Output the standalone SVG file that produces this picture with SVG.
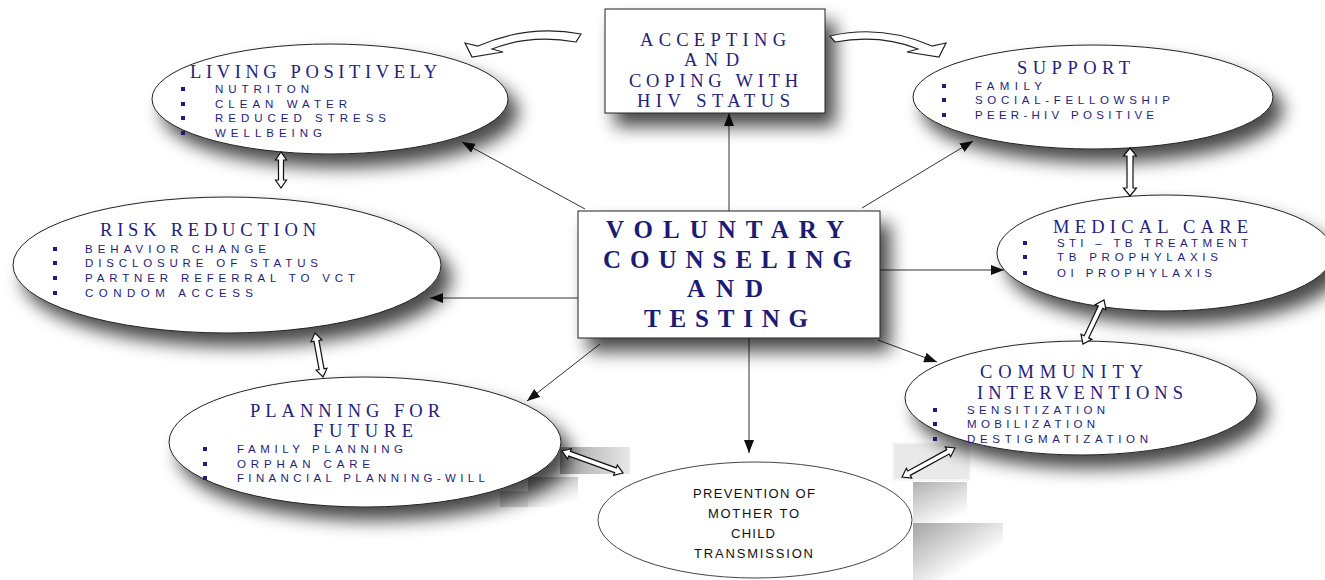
<svg xmlns="http://www.w3.org/2000/svg" width="1325" height="580" viewBox="0 0 1325 580">
  <defs>
    <style>
      .h { font-family: "Liberation Serif", "Times New Roman", serif; font-size: 18.5px; fill: #22227c; }
      .v { font-family: "Liberation Serif", "Times New Roman", serif; font-size: 25px; font-weight: bold; fill: #1c1c74; }
      .b { font-family: "Liberation Sans", Arial, sans-serif; font-size: 11.5px; fill: #1e1e7a; }
      .p { font-family: "Liberation Sans", Arial, sans-serif; font-size: 13px; fill: #111; }
      .dot { fill: #1e1e7a; }
      .shape { fill: #fff; stroke: #222; stroke-width: 1; }
      .plain { fill: #fff; stroke: #444; stroke-width: 1; }
      .link { stroke: #333; stroke-width: 1; fill: none; marker-end: url(#head); }
      .dbl { fill: #fff; stroke: #111; stroke-width: 1.2; stroke-linejoin: miter; }
      .curl { fill: #fff; stroke: #222; stroke-width: 1.2; }
    </style>
    <marker id="head" markerUnits="userSpaceOnUse" markerWidth="13" markerHeight="10" viewBox="0 0 13 10" refX="13" refY="5" orient="auto">
      <path d="M0,0 L13,5 L0,10 z" fill="#111"/>
    </marker>
    <filter id="shadow" x="-20%" y="-30%" width="150%" height="190%">
      <feGaussianBlur in="SourceAlpha" stdDeviation="9"/>
      <feOffset dx="10" dy="13" result="blur"/>
      <feComponentTransfer>
        <feFuncA type="linear" slope="0.72"/>
      </feComponentTransfer>
      <feMerge>
        <feMergeNode/>
        <feMergeNode in="SourceGraphic"/>
      </feMerge>
    </filter>
    <linearGradient id="shadeL" x1="0" y1="0" x2="1" y2="0">
      <stop offset="0" stop-color="#a4a4a4"/>
      <stop offset="1" stop-color="#e8e8e8"/>
    </linearGradient>
    <linearGradient id="shadeT" x1="0" y1="0" x2="0.6" y2="1">
      <stop offset="0" stop-color="#b0b0b0"/>
      <stop offset="1" stop-color="#ffffff"/>
    </linearGradient>
    <linearGradient id="shadeD" x1="0" y1="0" x2="1" y2="1">
      <stop offset="0" stop-color="#a4a4a4"/>
      <stop offset="0.7" stop-color="#ffffff"/>
    </linearGradient>
  </defs>

  <rect width="1325" height="580" fill="#fff"/>

  <!-- tiled shadow patches around the lower connectors -->
  <g id="patches">
    <rect x="560" y="447" width="70" height="27" fill="url(#shadeL)"/>
    <rect x="528" y="477" width="50" height="30" fill="url(#shadeT)"/>
    <rect x="500" y="491" width="28" height="16" fill="#cacaca" opacity="0.8"/>
    <rect x="893" y="443" width="77" height="37" fill="#e9e9e9" stroke="#f6f6f6" stroke-width="2"/>
    <rect x="913" y="482" width="54" height="41" fill="url(#shadeT)"/>
    <rect x="913" y="523" width="90" height="57" fill="url(#shadeD)"/>
  </g>

  <!-- connectors -->
  <g id="connectors">
    <line class="link" x1="729" y1="211" x2="729" y2="113"/>
    <line class="link" x1="862" y1="208" x2="973" y2="141"/>
    <line class="link" x1="585" y1="209" x2="462" y2="142"/>
    <line class="link" x1="578" y1="298" x2="430" y2="298"/>
    <line class="link" x1="880" y1="270" x2="1004" y2="270"/>
    <line class="link" x1="600" y1="344" x2="527" y2="401"/>
    <line class="link" x1="749" y1="338" x2="749" y2="453"/>
    <line class="link" x1="878" y1="340" x2="937" y2="362"/>
  </g>

  <!-- Living Positively -->
  <g id="living" filter="url(#shadow)">
    <ellipse class="shape" cx="330" cy="99" rx="178" ry="55"/>
  </g>
  <!-- Accepting and coping -->
  <g id="accepting" filter="url(#shadow)">
    <rect class="shape" x="605" y="9" width="220" height="104"/>
  </g>
  <!-- Support -->
  <g id="support" filter="url(#shadow)">
    <ellipse class="shape" cx="1093" cy="97" rx="180" ry="52"/>
  </g>
  <!-- Risk reduction -->
  <g id="risk" filter="url(#shadow)">
    <ellipse class="shape" cx="227" cy="265" rx="214" ry="68"/>
  </g>
  <!-- Central node -->
  <g id="vct" filter="url(#shadow)">
    <rect class="shape" x="578" y="211" width="302" height="127"/>
  </g>
  <!-- Medical care -->
  <g id="medical" filter="url(#shadow)">
    <ellipse class="shape" cx="1165" cy="253" rx="168" ry="58"/>
  </g>
  <!-- Community interventions -->
  <g id="community" filter="url(#shadow)">
    <ellipse class="shape" cx="1081" cy="398" rx="176" ry="57"/>
  </g>
  <!-- Planning for future -->
  <g id="planning" filter="url(#shadow)">
    <ellipse class="shape" cx="365" cy="442" rx="196" ry="65"/>
  </g>
  <!-- PMTCT -->
  <g id="pmtct">
    <ellipse class="plain" cx="755" cy="520" rx="157" ry="58"/>
  </g>

  <!-- block arrows between neighbouring nodes -->
  <g id="block-arrows">
    <path class="dbl" transform="translate(281,170) rotate(90)" d="M-18,0 L-10,-5.5 L-10,-2.5 L10,-2.5 L10,-5.5 L18,0 L10,5.5 L10,2.5 L-10,2.5 L-10,5.5 Z"/>
    <path class="dbl" transform="translate(1130,172) rotate(90)" d="M-24,0 L-16,-6.5 L-16,-3 L16,-3 L16,-6.5 L24,0 L16,6.5 L16,3 L-16,3 L-16,6.5 Z"/>
    <path class="dbl" transform="translate(319,355) rotate(79.7)" d="M-22.4,0 L-14.4,-5.5 L-14.4,-2.5 L14.4,-2.5 L14.4,-5.5 L22.4,0 L14.4,5.5 L14.4,2.5 L-14.4,2.5 L-14.4,5.5 Z"/>
    <path class="dbl" transform="translate(1093.5,322) rotate(115.5)" d="M-24.4,0 L-16.4,-6 L-16.4,-2.5 L16.4,-2.5 L16.4,-6 L24.4,0 L16.4,6 L16.4,2.5 L-16.4,2.5 L-16.4,6 Z"/>
    <path class="dbl" transform="translate(592.5,462) rotate(19.8)" d="M-32.4,0 L-24.4,-5.5 L-24.4,-2.5 L24.4,-2.5 L24.4,-5.5 L32.4,0 L24.4,5.5 L24.4,2.5 L-24.4,2.5 L-24.4,5.5 Z"/>
    <path class="dbl" transform="translate(928.5,462.5) rotate(-28.7)" d="M-30.2,0 L-22.2,-5.5 L-22.2,-2.5 L22.2,-2.5 L22.2,-5.5 L30.2,0 L22.2,5.5 L22.2,2.5 L-22.2,2.5 L-22.2,5.5 Z"/>
    <path class="curl" d="M581,34 Q528,24 478,46 L465,43 L472,57 L503,52 L492,49 Q530,34 576,42 Z"/>
    <path class="curl" d="M830,36 Q882,24 932,46 L946,43 L939,57 L907,52 L918,49 Q880,34 835,42 Z"/>
  </g>

  <!-- labels -->
  <g id="living-text">
    <text class="h" x="190" y="78" textLength="247" lengthAdjust="spacing">LIVING POSITIVELY</text>
    <rect class="dot" x="181" y="87" width="4" height="4"/>
    <rect class="dot" x="181" y="102" width="4" height="4"/>
    <rect class="dot" x="181" y="116" width="4" height="4"/>
    <rect class="dot" x="181" y="131" width="4" height="4"/>
    <text class="b" x="215" y="93" textLength="94" lengthAdjust="spacing">NUTRITON</text>
    <text class="b" x="215" y="108" textLength="132" lengthAdjust="spacing">CLEAN WATER</text>
    <text class="b" x="215" y="122" textLength="171" lengthAdjust="spacing">REDUCED STRESS</text>
    <text class="b" x="215" y="137" textLength="107" lengthAdjust="spacing">WELLBEING</text>
  </g>

  <g id="accepting-text">
    <text class="h" x="640" y="46" textLength="146" lengthAdjust="spacing">ACCEPTING</text>
    <text class="h" x="684" y="66" textLength="55" lengthAdjust="spacing">AND</text>
    <text class="h" x="629" y="87" textLength="169" lengthAdjust="spacing">COPING WITH</text>
    <text class="h" x="637" y="107" textLength="153" lengthAdjust="spacing">HIV STATUS</text>
  </g>

  <g id="support-text">
    <text class="h" x="1017" y="74" textLength="113" lengthAdjust="spacing">SUPPORT</text>
    <rect class="dot" x="942" y="84" width="4" height="4"/>
    <rect class="dot" x="942" y="98" width="4" height="4"/>
    <rect class="dot" x="942" y="113" width="4" height="4"/>
    <text class="b" x="975" y="90" textLength="67" lengthAdjust="spacing">FAMILY</text>
    <text class="b" x="975" y="104" textLength="195" lengthAdjust="spacing">SOCIAL-FELLOWSHIP</text>
    <text class="b" x="975" y="119" textLength="179" lengthAdjust="spacing">PEER-HIV POSITIVE</text>
  </g>

  <g id="risk-text">
    <text class="h" x="100" y="236" textLength="216" lengthAdjust="spacing">RISK REDUCTION</text>
    <rect class="dot" x="53" y="247" width="4" height="4"/>
    <rect class="dot" x="53" y="261" width="4" height="4"/>
    <rect class="dot" x="53" y="276" width="4" height="4"/>
    <rect class="dot" x="53" y="291" width="4" height="4"/>
    <text class="b" x="85" y="253" textLength="181" lengthAdjust="spacing">BEHAVIOR CHANGE</text>
    <text class="b" x="85" y="267" textLength="233" lengthAdjust="spacing">DISCLOSURE OF STATUS</text>
    <text class="b" x="85" y="282" textLength="270" lengthAdjust="spacing">PARTNER REFERRAL TO VCT</text>
    <text class="b" x="85" y="297" textLength="168" lengthAdjust="spacing">CONDOM ACCESS</text>
  </g>

  <g id="vct-text">
    <text class="v" x="606" y="238" textLength="238" lengthAdjust="spacing">VOLUNTARY</text>
    <text class="v" x="603" y="268" textLength="249" lengthAdjust="spacing">COUNSELING</text>
    <text class="v" x="687" y="297" textLength="76" lengthAdjust="spacing">AND</text>
    <text class="v" x="644" y="327" textLength="164" lengthAdjust="spacing">TESTING</text>
  </g>

  <g id="medical-text">
    <text class="h" x="1053" y="233" textLength="195" lengthAdjust="spacing">MEDICAL CARE</text>
    <rect class="dot" x="1023" y="241" width="4" height="4"/>
    <rect class="dot" x="1023" y="255" width="4" height="4"/>
    <rect class="dot" x="1023" y="271" width="4" height="4"/>
    <text class="b" x="1057" y="247" textLength="191" lengthAdjust="spacing">STI – TB TREATMENT</text>
    <text class="b" x="1057" y="261" textLength="161" lengthAdjust="spacing">TB PROPHYLAXIS</text>
    <text class="b" x="1057" y="277" textLength="155" lengthAdjust="spacing">OI PROPHYLAXIS</text>
  </g>

  <g id="community-text">
    <text class="h" x="980" y="378" textLength="163" lengthAdjust="spacing">COMMUNITY</text>
    <text class="h" x="977" y="399" textLength="206" lengthAdjust="spacing">INTERVENTIONS</text>
    <rect class="dot" x="933" y="408" width="4" height="4"/>
    <rect class="dot" x="933" y="422" width="4" height="4"/>
    <rect class="dot" x="933" y="437" width="4" height="4"/>
    <text class="b" x="967" y="414" textLength="138" lengthAdjust="spacing">SENSITIZATION</text>
    <text class="b" x="967" y="428" textLength="128" lengthAdjust="spacing">MOBILIZATION</text>
    <text class="b" x="967" y="443" textLength="181" lengthAdjust="spacing">DESTIGMATIZATION</text>
  </g>

  <g id="planning-text">
    <text class="h" x="250" y="417" textLength="190" lengthAdjust="spacing">PLANNING FOR</text>
    <text class="h" x="313" y="437" textLength="100" lengthAdjust="spacing">FUTURE</text>
    <rect class="dot" x="203" y="447" width="4" height="4"/>
    <rect class="dot" x="203" y="462" width="4" height="4"/>
    <rect class="dot" x="203" y="476" width="4" height="4"/>
    <text class="b" x="237" y="453" textLength="166" lengthAdjust="spacing">FAMILY PLANNING</text>
    <text class="b" x="237" y="468" textLength="133" lengthAdjust="spacing">ORPHAN CARE</text>
    <text class="b" x="237" y="482" textLength="248" lengthAdjust="spacing">FINANCIAL PLANNING-WILL</text>
  </g>

  <g id="pmtct-text">
    <text class="p" x="693" y="498" textLength="122" lengthAdjust="spacing">PREVENTION OF</text>
    <text class="p" x="708" y="518" textLength="91" lengthAdjust="spacing">MOTHER TO</text>
    <text class="p" x="731" y="538" textLength="44" lengthAdjust="spacing">CHILD</text>
    <text class="p" x="694" y="558" textLength="119" lengthAdjust="spacing">TRANSMISSION</text>
  </g>
</svg>
